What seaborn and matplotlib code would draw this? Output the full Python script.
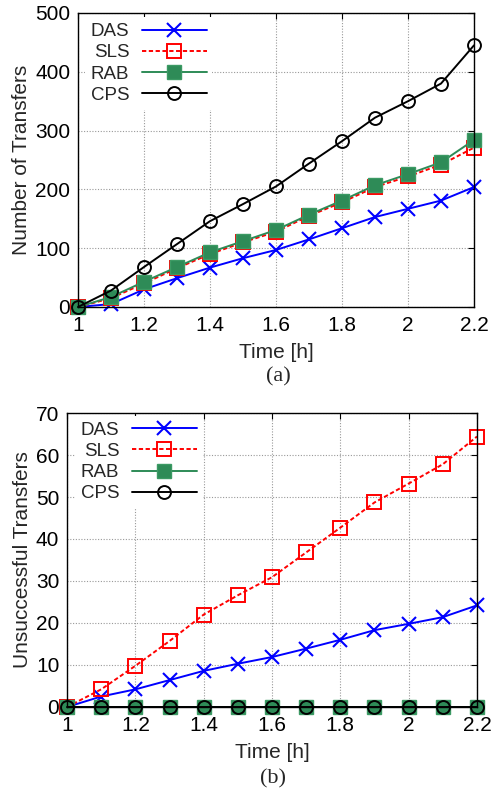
import matplotlib
matplotlib.use("Agg")
import matplotlib.pyplot as plt
import seaborn as sns
import pandas as pd

sns.set_style("white")
plt.rcParams['font.family'] = ['Liberation Sans', 'DejaVu Sans']

time = [1.0, 1.1, 1.2, 1.3, 1.4, 1.5, 1.6, 1.7, 1.8, 1.9, 2.0, 2.1, 2.2]
xtick_vals = [1.0, 1.2, 1.4, 1.6, 1.8, 2.0, 2.2]
xtick_labels = ["1", "1.2", "1.4", "1.6", "1.8", "2", "2.2"]

# (a) Number of transfers
das_a = [0, 5, 30, 49, 67, 83, 97, 115, 134, 153, 167, 181, 204]
sls_a = [0, 15, 40, 66, 90, 110, 128, 155, 178, 204, 222, 242, 271]
rab_a = [0, 17, 43, 68, 93, 112, 131, 157, 181, 207, 226, 246, 284]
cps_a = [0, 28, 68, 107, 146, 175, 205, 244, 282, 322, 350, 380, 445]

# (b) Unsuccessful transfers
das_b = [0, 2.5, 4.2, 6.4, 8.6, 10.3, 11.9, 13.9, 16.0, 18.3, 19.8, 21.4, 24.2]
sls_b = [0, 4.2, 9.8, 15.7, 22.0, 26.6, 30.9, 36.8, 42.7, 48.7, 53.2, 57.8, 64.4]
rab_b = [0, 0, 0, 0, 0, 0, 0, 0, 0, 0, 0, 0, 0]
cps_b = [0, 0, 0, 0, 0, 0, 0, 0, 0, 0, 0, 0, 0]

series_names = ["DAS", "SLS", "RAB", "CPS"]
styles = {
    "DAS": dict(color="#0000ff", marker="x", markersize=10, markeredgewidth=1.5,
                markeredgecolor="#0000ff", markerfacecolor="#0000ff",
                linestyle="-", linewidth=1.4),
    "SLS": dict(color="#ff0000", marker="s", markersize=10, markeredgewidth=1.4,
                markeredgecolor="#ff0000", markerfacecolor="none",
                linestyle=(0, (2.2, 1.3)), linewidth=1.4),
    "RAB": dict(color="#2e8b57", marker="s", markersize=10, markeredgewidth=1.0,
                markeredgecolor="#3c9a64", markerfacecolor="#2e8b57",
                linestyle="-", linewidth=1.4),
    "CPS": dict(color="#000000", marker="o", markersize=9.3, markeredgewidth=1.4,
                markeredgecolor="#000000", markerfacecolor="none",
                linestyle="-", linewidth=1.4),
}

FS = 15
LFS = 13.5

fig = plt.figure(figsize=(4.91, 7.95), dpi=100)
ax_a = fig.add_axes([78/491, 1-307/795, (474-78)/491, (307-13)/795])
ax_b = fig.add_axes([67/491, 1-707/795, (477-67)/491, (707-413)/795])


def draw(ax, values, ylim, yticks, ylabel, caption, cap_xy, leg_anchor):
    for name, vals in zip(series_names, values):
        df = pd.DataFrame({"t": time, "v": vals})
        n_before = len(ax.lines)
        sns.lineplot(data=df, x="t", y="v", ax=ax, color=styles[name]["color"])
        line = ax.lines[n_before]
        line.set(**styles[name])
        line.set_label(name)
        line.set_clip_on(False)
    ax.set_xlim(1.0, 2.2)
    ax.set_ylim(*ylim)
    ax.set_xticks(xtick_vals)
    ax.set_xticklabels(xtick_labels)
    ax.set_yticks(yticks)
    ax.set_yticklabels([str(v) for v in yticks])
    ax.grid(True, color="#999999", linestyle=(0, (1, 1.5)), linewidth=0.8)
    ax.set_axisbelow(True)
    for sp in ax.spines.values():
        sp.set_color("black")
        sp.set_linewidth(1.0)
    ax.tick_params(axis="both", which="both", direction="in", length=4,
                   top=True, right=True, labelsize=FS, colors="black")
    ax.tick_params(axis="x", pad=6.5)
    ax.tick_params(axis="y", pad=5.5)
    ax.set_xlabel("Time [h]", fontsize=FS, labelpad=6)
    ax.set_ylabel(ylabel, fontsize=FS, labelpad=3)
    handles = [l for l in ax.lines if l.get_label() in series_names]
    ax.legend(handles=handles, labels=series_names,
              loc="upper left", bbox_to_anchor=leg_anchor, markerfirst=False,
              fontsize=LFS, handlelength=3.47, handletextpad=0.66,
              labelspacing=0.22, borderpad=0.3, borderaxespad=0.0,
              frameon=True, fancybox=False, framealpha=1.0,
              facecolor="white", edgecolor="none", numpoints=1)
    fig.text(cap_xy[0], cap_xy[1], caption, fontsize=16,
             family=["Liberation Serif", "DejaVu Serif"], ha="center", va="center")


draw(ax_a, [das_a, sls_a, rab_a, cps_a], (0, 500), [0, 100, 200, 300, 400, 500],
     "Number of Transfers", "(a)", (278/491, 1-377/795), (7/396, 0.985))
draw(ax_b, [das_b, sls_b, rab_b, cps_b], (0, 70), [0, 10, 20, 30, 40, 50, 60, 70],
     "Unsuccessful Transfers", "(b)", (273/491, 1-779/795), (8/410, 0.99))

fig.savefig("out.png", dpi=100, facecolor="white")
